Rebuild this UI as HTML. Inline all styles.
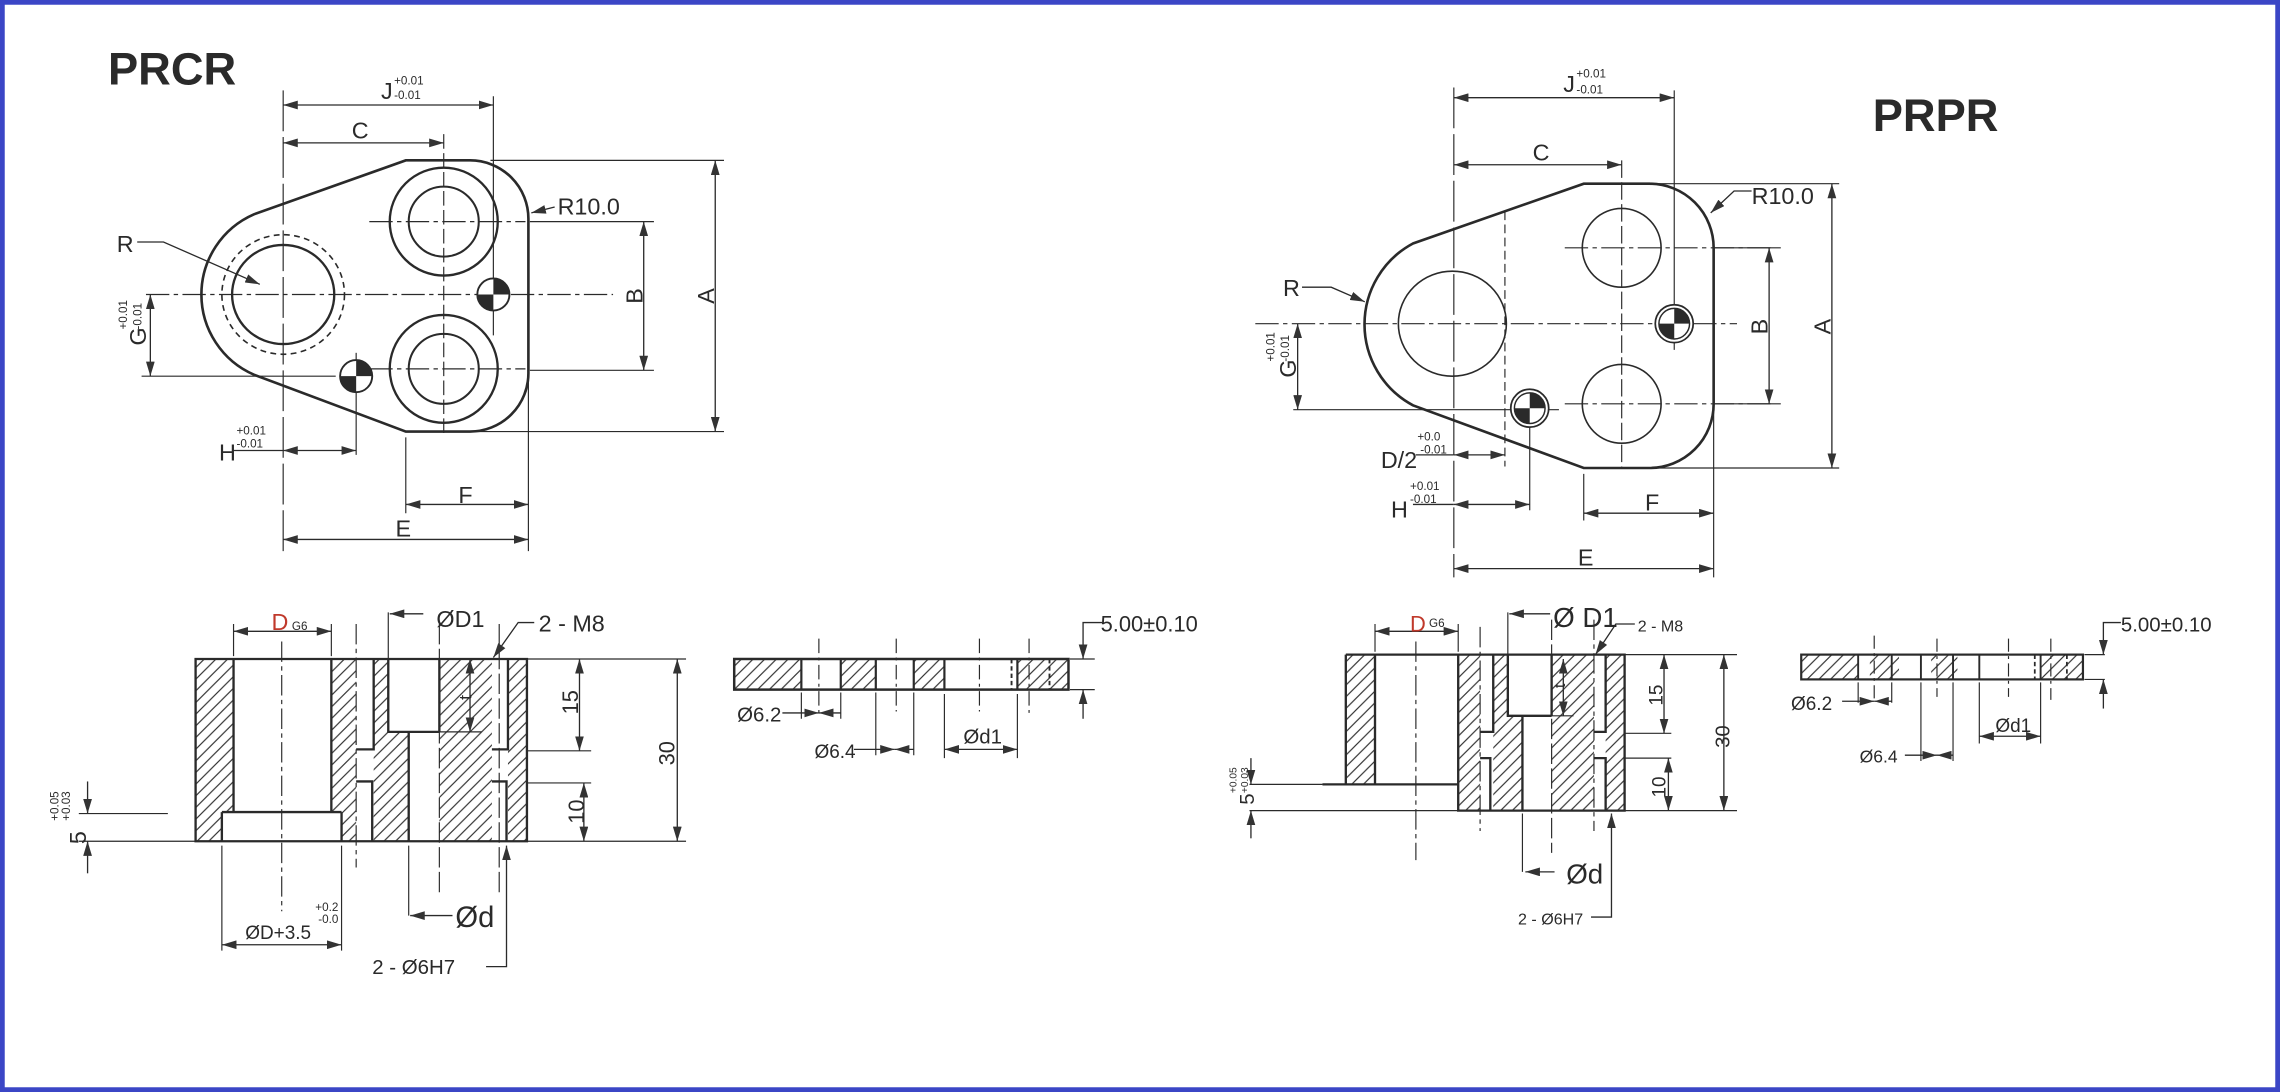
<!DOCTYPE html>
<html><head><meta charset="utf-8"><style>
html,body{margin:0;padding:0;background:#fff}
svg{display:block}
text{font-family:"Liberation Sans",sans-serif;fill:#2a2a2a}
</style></head><body>
<svg width="2280" height="1092" viewBox="0 0 1562 749" preserveAspectRatio="none" xmlns="http://www.w3.org/2000/svg">
<defs>
<pattern id="h" width="8" height="8" patternUnits="userSpaceOnUse">
<path d="M-2,10 L10,-2 M-2,2 L2,-2 M6,10 L10,6" stroke="#333" stroke-width="0.8"/>
</pattern>
<marker id="a" viewBox="0 0 10 6" refX="10" refY="3" markerWidth="10" markerHeight="6" markerUnits="userSpaceOnUse" orient="auto-start-reverse">
<path d="M0,0 L10,3 L0,6 z" fill="#333"/>
</marker>
</defs>
<rect x="1.5" y="1.5" width="1559" height="746" fill="#fff" stroke="#3b46c6" stroke-width="3.5"/>

<!-- ================= PRCR top view ================= -->
<text x="74" y="58" font-size="31" font-weight="bold">PRCR</text>
<g fill="none" stroke="#2a2a2a">
<path d="M278,110 L322,110 A40,40 0 0 1 362,150 L362,256 A40,40 0 0 1 322,296 L278,296 L174,257 A60,60 0 0 1 174,147 Z" stroke-width="1.8"/>
<circle cx="304" cy="152" r="37" stroke-width="1.6"/>
<circle cx="304" cy="152" r="24" stroke-width="1.4"/>
<circle cx="304" cy="253" r="37" stroke-width="1.6"/>
<circle cx="304" cy="253" r="24" stroke-width="1.4"/>
<ellipse cx="194" cy="202" rx="35" ry="34" stroke-width="1.6"/>
<ellipse cx="194" cy="202" rx="42" ry="41" stroke-width="1.1" stroke-dasharray="4,3"/>
<g stroke-width="0.8">
<path d="M100,202 L420,202" stroke-dasharray="16,3,3,3"/>
<path d="M253,152 L360,152 M253,253 L360,253" stroke-dasharray="16,3,3,3"/>
<path d="M304,92 L304,300" stroke-dasharray="10,3"/>
<path d="M194,62 L194,378" stroke-dasharray="28,4"/>
<path d="M338,66 L338,230"/>
<path d="M244,242 L244,312"/>
<path d="M362,258 L362,378 M278,300 L278,352"/>
<path d="M363,152 L448,152 M363,254 L448,254 M336,110 L496,110 M326,296 L496,296 M97,258 L230,258"/>
</g>
<g stroke-width="0.9">
<path d="M194,72 L338,72" marker-start="url(#a)" marker-end="url(#a)"/>
<path d="M194,98 L304,98" marker-start="url(#a)" marker-end="url(#a)"/>
<path d="M441,152 L441,254" marker-start="url(#a)" marker-end="url(#a)"/>
<path d="M490,110 L490,296" marker-start="url(#a)" marker-end="url(#a)"/>
<path d="M103,202 L103,258" marker-start="url(#a)" marker-end="url(#a)"/>
<path d="M160,309 L194,309"/>
<path d="M194,309 L244,309" marker-start="url(#a)" marker-end="url(#a)"/>
<path d="M278,346 L362,346" marker-start="url(#a)" marker-end="url(#a)"/>
<path d="M194,370 L362,370" marker-start="url(#a)" marker-end="url(#a)"/>
<path d="M94,166 L112,166 L178,195" marker-end="url(#a)"/>
<path d="M380,142 L364,146" marker-end="url(#a)"/>
</g>
</g>
<g>
<circle cx="338" cy="202" r="11" fill="#fff" stroke="#2a2a2a" stroke-width="1.3"/>
<path d="M338,202 L338,191 A11,11 0 0 1 349,202 Z M338,202 L338,213 A11,11 0 0 1 327,202 Z" fill="#2a2a2a"/>
<circle cx="244" cy="258" r="11" fill="#fff" stroke="#2a2a2a" stroke-width="1.3"/>
<path d="M244,258 L244,247 A11,11 0 0 1 255,258 Z M244,258 L244,269 A11,11 0 0 1 233,258 Z" fill="#2a2a2a"/>
</g>
<text x="261" y="68" font-size="16">J</text><text x="270" y="58" font-size="8">+0.01</text><text x="270" y="68" font-size="8">-0.01</text>
<text x="241" y="95" font-size="16">C</text>
<text x="80" y="173" font-size="16">R</text>
<text x="382" y="147" font-size="16">R10.0</text>
<text transform="translate(440,203) rotate(-90)" font-size="16" text-anchor="middle" dy="0">B</text>
<text transform="translate(489,203) rotate(-90)" font-size="16" text-anchor="middle">A</text>
<text transform="translate(100,237) rotate(-90)" font-size="16">G</text>
<text transform="translate(87,226) rotate(-90)" font-size="8">+0.01</text>
<text transform="translate(97,226) rotate(-90)" font-size="8">-0.01</text>
<text x="150" y="316" font-size="16">H</text><text x="162" y="298" font-size="8">+0.01</text><text x="162" y="307" font-size="8">-0.01</text>
<text x="314" y="345" font-size="16">F</text>
<text x="271" y="368" font-size="16">E</text>

<!-- ================= PRPR top view ================= -->
<text x="1283" y="90" font-size="31" font-weight="bold">PRPR</text>
<g fill="none" stroke="#2a2a2a">
<path d="M1085,126 L1130,126 A44,44 0 0 1 1174,170 L1174,277 A44,44 0 0 1 1130,321 L1085,321 L968,278 A63,63 0 0 1 968,167 Z" stroke-width="1.8"/>
<ellipse cx="995" cy="222" rx="37" ry="36" stroke-width="1.1"/>
<ellipse cx="1111" cy="170" rx="27" ry="27" stroke-width="1.1"/>
<ellipse cx="1111" cy="277" rx="27" ry="27" stroke-width="1.1"/>
<g stroke-width="0.8">
<path d="M860,222 L1190,222" stroke-dasharray="16,3,3,3"/>
<path d="M1072,170 L1213,170 M1072,277 L1213,277" stroke-dasharray="16,3,3,3"/>
<path d="M1031,145 L1031,320" stroke-dasharray="6,3"/>
<path d="M996,60 L996,396" stroke-dasharray="28,4"/>
<path d="M1111,110 L1111,321" stroke-dasharray="12,3"/>
<path d="M1147,62 L1147,240"/>
<path d="M1048,268 L1048,350"/>
<path d="M1174,280 L1174,396 M1085,325 L1085,357"/>
<path d="M1174,170 L1220,170 M1174,277 L1220,277 M1136,126 L1260,126 M1136,321 L1260,321 M886,281 L1068,281"/>
</g>
<g stroke-width="0.9">
<path d="M996,67 L1147,67" marker-start="url(#a)" marker-end="url(#a)"/>
<path d="M996,113 L1111,113" marker-start="url(#a)" marker-end="url(#a)"/>
<path d="M1212,170 L1212,277" marker-start="url(#a)" marker-end="url(#a)"/>
<path d="M1255,126 L1255,321" marker-start="url(#a)" marker-end="url(#a)"/>
<path d="M889,222 L889,281" marker-start="url(#a)" marker-end="url(#a)"/>
<path d="M970,312 L996,312"/>
<path d="M996,312 L1031,312" marker-start="url(#a)" marker-end="url(#a)"/>
<path d="M968,346 L996,346"/>
<path d="M996,346 L1048,346" marker-start="url(#a)" marker-end="url(#a)"/>
<path d="M1085,352 L1174,352" marker-start="url(#a)" marker-end="url(#a)"/>
<path d="M996,390 L1174,390" marker-start="url(#a)" marker-end="url(#a)"/>
<path d="M892,197 L912,197 L935,207" marker-end="url(#a)"/>
<path d="M1200,131 L1188,131 L1172,146" marker-end="url(#a)"/>
</g>
</g>
<g>
<circle cx="1147" cy="222" r="13" fill="#fff" stroke="#2a2a2a" stroke-width="1.2"/>
<circle cx="1147" cy="222" r="10.5" fill="#fff" stroke="#2a2a2a" stroke-width="1"/>
<path d="M1147,222 L1147,211.5 A10.5,10.5 0 0 1 1157.5,222 Z M1147,222 L1147,232.5 A10.5,10.5 0 0 1 1136.5,222 Z" fill="#2a2a2a"/>
<circle cx="1048" cy="280" r="13" fill="#fff" stroke="#2a2a2a" stroke-width="1.2"/>
<circle cx="1048" cy="280" r="10.5" fill="#fff" stroke="#2a2a2a" stroke-width="1"/>
<path d="M1048,280 L1048,269.5 A10.5,10.5 0 0 1 1058.5,280 Z M1048,280 L1048,290.5 A10.5,10.5 0 0 1 1037.5,280 Z" fill="#2a2a2a"/>
</g>
<text x="1071" y="63" font-size="16">J</text><text x="1080" y="53" font-size="8">+0.01</text><text x="1080" y="64" font-size="8">-0.01</text>
<text x="1050" y="110" font-size="16">C</text>
<text x="879" y="203" font-size="16">R</text>
<text x="1200" y="140" font-size="16">R10.0</text>
<text transform="translate(1211,224) rotate(-90)" font-size="16" text-anchor="middle">B</text>
<text transform="translate(1254,224) rotate(-90)" font-size="16" text-anchor="middle">A</text>
<text transform="translate(888,259) rotate(-90)" font-size="16">G</text>
<text transform="translate(873,248) rotate(-90)" font-size="8">+0.01</text>
<text transform="translate(883,248) rotate(-90)" font-size="8">-0.01</text>
<text x="946" y="321" font-size="16">D/2</text><text x="971" y="302" font-size="8">+0.0</text><text x="973" y="311" font-size="8">-0.01</text>
<text x="953" y="355" font-size="16">H</text><text x="966" y="336" font-size="8">+0.01</text><text x="966" y="345" font-size="8">-0.01</text>
<text x="1127" y="350" font-size="16">F</text>
<text x="1081" y="388" font-size="16">E</text>

<!-- ================= PRCR section ================= -->
<g stroke="#2a2a2a" fill="none">
<rect x="134" y="452" width="227" height="125" fill="url(#h)" stroke="none"/>
<g fill="#fff" stroke="none">
<rect x="160" y="452" width="67" height="106"/>
<rect x="152" y="557" width="82" height="20"/>
<rect x="244" y="452" width="12" height="125"/>
<rect x="266" y="452" width="35" height="50"/>
<rect x="280" y="502" width="21" height="75"/>
<rect x="337" y="452" width="11" height="125"/>
</g>
<g stroke-width="1.6">
<path d="M134,452 L361,452 L361,577 L134,577 Z"/>
<path d="M160,452 L160,557 M227,452 L227,557 M152,557 L234,557 M152,557 L152,577 M234,557 L234,577"/>
<path d="M256,452 L256,514 L244,514 M244,536 L255,536 L255,577"/>
<path d="M266,452 L266,502 L301,502 M280,502 L280,577 M301,452 L301,502"/>
<path d="M348,452 L348,514 L337,514 M337,536 L347,536 L347,577"/>
</g>
<g stroke-width="0.8">
<path d="M193,440 L193,625" stroke-dasharray="14,3,3,3"/>
<path d="M244,428 L244,595" stroke-dasharray="14,3,3,3"/>
<path d="M301,428 L301,612 M342,428 L342,612" stroke-dasharray="14,3"/>
<path d="M160,428 L160,450 M227,428 L227,450 M266,420 L266,452 M152,580 L152,652 M234,580 L234,652 M280,580 L280,628"/>
<path d="M361,452 L470,452 M361,515 L405,515 M361,537 L405,537 M361,577 L470,577 M54,558 L115,558 M54,577 L134,577 M301,502 L330,502"/>
</g>
<g stroke-width="0.9">
<path d="M160,433 L227,433" marker-start="url(#a)" marker-end="url(#a)"/>
<path d="M152,648 L234,648" marker-start="url(#a)" marker-end="url(#a)"/>
<path d="M397,452 L397,515" marker-start="url(#a)" marker-end="url(#a)"/>
<path d="M400,537 L400,577" marker-start="url(#a)" marker-end="url(#a)"/>
<path d="M464,452 L464,577" marker-start="url(#a)" marker-end="url(#a)"/>
<path d="M322,452 L322,502" marker-start="url(#a)" marker-end="url(#a)"/>
<path d="M60,536 L60,558" marker-end="url(#a)"/>
<path d="M60,599 L60,577" marker-end="url(#a)"/>
<path d="M290,421 L267,421" marker-end="url(#a)"/>
<path d="M310,628 L281,628" marker-end="url(#a)"/>
<path d="M366,427 L355,427 L338,451" marker-end="url(#a)"/>
<path d="M333,663 L347,663 L347,580" marker-end="url(#a)"/>
</g>
</g>
<text x="186" y="432" font-size="16" style="fill:#c0392b">D</text><text x="200" y="432" font-size="8">G6</text>
<text x="299" y="430" font-size="16">ØD1</text>
<text x="369" y="433" font-size="16">2 - M8</text>
<text transform="translate(323,480) rotate(-90)" font-size="12">t</text>
<text transform="translate(396,490) rotate(-90)" font-size="15">15</text>
<text transform="translate(400,565) rotate(-90)" font-size="15">10</text>
<text transform="translate(462,525) rotate(-90)" font-size="15">30</text>
<text transform="translate(59,579) rotate(-90)" font-size="16">5</text>
<text transform="translate(40,563) rotate(-90)" font-size="8">+0.05</text>
<text transform="translate(48,563) rotate(-90)" font-size="8">+0.03</text>
<text x="312" y="636" font-size="20">Ød</text>
<text x="168" y="644" font-size="13">ØD+3.5</text><text x="216" y="625" font-size="8">+0.2</text><text x="218" y="633" font-size="8">-0.0</text>
<text x="255" y="668" font-size="14">2 - Ø6H7</text>

<!-- ================= plate (middle-left) ================= -->
<g>
<g stroke="#2a2a2a" fill="none">
<rect x="503" y="452" width="46" height="21" fill="url(#h)" stroke="none"/>
<rect x="576" y="452" width="24" height="21" fill="url(#h)" stroke="none"/>
<rect x="626" y="452" width="21" height="21" fill="url(#h)" stroke="none"/>
<rect x="697" y="452" width="35" height="21" fill="url(#h)" stroke="none"/>
<rect x="503" y="452" width="229" height="21" stroke-width="1.7"/>
<path d="M549,452 L549,473 M576,452 L576,473 M600,452 L600,473 M626,452 L626,473 M647,452 L647,473 M697,452 L697,473" stroke-width="1.5"/>
<path d="M693,452 L693,473 M719,452 L719,473" stroke-width="1.3" stroke-dasharray="3,2"/>
<g stroke-width="0.8">
<path d="M561,438 L561,492 M614,438 L614,488 M671,438 L671,488 M705,438 L705,490" stroke-dasharray="10,3,2,3"/>
<path d="M549,475 L549,493 M576,475 L576,493 M600,475 L600,518 M626,475 L626,518 M647,476 L647,520 M697,476 L697,520 M733,452 L750,452 M733,473 L750,473"/>
</g>
<g stroke-width="0.9">
<path d="M536,489 L549,489"/>
<path d="M549,489 L561,489" marker-end="url(#a)"/><path d="M576,489 L561,489" marker-end="url(#a)"/>
<path d="M585,514 L600,514"/>
<path d="M600,514 L613,514" marker-end="url(#a)"/><path d="M626,514 L613,514" marker-end="url(#a)"/>
<path d="M647,514 L697,514" marker-start="url(#a)" marker-end="url(#a)"/>
<path d="M755,427 L742,427 L742,452" marker-end="url(#a)"/>
<path d="M742,493 L742,473" marker-end="url(#a)"/>
</g>
</g>
<text x="505" y="495" font-size="14">Ø6.2</text>
<text x="558" y="520" font-size="13">Ø6.4</text>
<text x="660" y="510" font-size="14">Ød1</text>
<text x="754" y="433" font-size="15">5.00±0.10</text>
</g>

<!-- plate (right) -->
<g stroke="#2a2a2a" fill="none">
<rect x="1234" y="449" width="39" height="17" fill="url(#h)" stroke="none"/>
<rect x="1281" y="449" width="20" height="17" fill="url(#h)" stroke="none"/>
<rect x="1323" y="449" width="18" height="17" fill="url(#h)" stroke="none"/>
<rect x="1398" y="449" width="29" height="17" fill="url(#h)" stroke="none"/>
<rect x="1234" y="449" width="193" height="17" stroke-width="1.5"/>
<path d="M1273,449 L1273,466 M1296,449 L1296,466 M1316,449 L1316,466 M1338,449 L1338,466 M1356,449 L1356,466 M1398,449 L1398,466" stroke-width="1.3"/>
<path d="M1394,449 L1394,466 M1416,449 L1416,466" stroke-width="1.2" stroke-dasharray="3,2"/>
<g stroke-width="0.8">
<path d="M1284,436 L1284,482 M1327,438 L1327,478 M1376,438 L1376,478 M1405,438 L1405,480" stroke-dasharray="9,3,2,3"/>
<path d="M1273,468 L1273,482 M1296,468 L1296,482 M1316,468 L1316,522 M1338,468 L1338,522 M1356,468 L1356,510 M1398,468 L1398,510 M1428,449 L1442,449 M1428,466 L1442,466"/>
</g>
<g stroke-width="0.9">
<path d="M1262,481 L1273,481"/>
<path d="M1273,481 L1284,481" marker-end="url(#a)"/><path d="M1296,481 L1284,481" marker-end="url(#a)"/>
<path d="M1305,518 L1316,518"/>
<path d="M1316,518 L1327,518" marker-end="url(#a)"/><path d="M1338,518 L1327,518" marker-end="url(#a)"/>
<path d="M1356,505 L1398,505" marker-start="url(#a)" marker-end="url(#a)"/>
<path d="M1453,427 L1441,427 L1441,449" marker-end="url(#a)"/>
<path d="M1441,486 L1441,466" marker-end="url(#a)"/>
</g>
</g>
<text x="1227" y="487" font-size="13">Ø6.2</text>
<text x="1274" y="523" font-size="12">Ø6.4</text>
<text x="1367" y="502" font-size="13">Ød1</text>
<text x="1453" y="433" font-size="14">5.00±0.10</text>

<!-- ================= PRPR section ================= -->
<g stroke="#2a2a2a" fill="none">
<rect x="922" y="449" width="20" height="89" fill="url(#h)" stroke="none"/>
<rect x="999" y="449" width="114" height="107" fill="url(#h)" stroke="none"/>
<g fill="#fff" stroke="none">
<rect x="1014" y="449" width="9" height="107"/>
<rect x="1033" y="449" width="30" height="42"/>
<rect x="1043" y="491" width="20" height="65"/>
<rect x="1092" y="449" width="8" height="107"/>
</g>
<g stroke-width="1.6">
<path d="M922,449 L1113,449 L1113,556 L999,556 L999,538 L906,538 M922,449 L922,538 M942,449 L942,538 M999,449 L999,538"/>
<path d="M1023,449 L1023,502 L1014,502 M1014,520 L1021,520 L1021,556"/>
<path d="M1033,449 L1033,491 L1063,491 M1043,491 L1043,556 M1063,449 L1063,491"/>
<path d="M1100,449 L1100,502 L1092,502 M1092,520 L1100,520 L1100,556"/>
</g>
<g stroke-width="0.8">
<path d="M970,440 L970,590" stroke-dasharray="14,3,3,3"/>
<path d="M1014,430 L1014,570 M1092,425 L1092,570" stroke-dasharray="14,3,3,3"/>
<path d="M1063,425 L1063,585" stroke-dasharray="14,3"/>
<path d="M942,428 L942,447 M999,428 L999,447 M1033,420 L1033,449 M1043,558 L1043,598"/>
<path d="M1113,449 L1190,449 M1113,503 L1145,503 M1113,520 L1145,520 M1113,556 L1190,556 M856,538 L906,538 M856,556 L999,556 M1063,491 L1078,491"/>
</g>
<g stroke-width="0.9">
<path d="M942,433 L999,433" marker-start="url(#a)" marker-end="url(#a)"/>
<path d="M1140,449 L1140,503" marker-start="url(#a)" marker-end="url(#a)"/>
<path d="M1143,520 L1143,556" marker-start="url(#a)" marker-end="url(#a)"/>
<path d="M1181,449 L1181,556" marker-start="url(#a)" marker-end="url(#a)"/>
<path d="M1071,452 L1071,491" marker-start="url(#a)" marker-end="url(#a)"/>
<path d="M857,520 L857,538" marker-end="url(#a)"/>
<path d="M857,575 L857,556" marker-end="url(#a)"/>
<path d="M1062,421 L1034,421" marker-end="url(#a)"/>
<path d="M1065,598 L1045,598" marker-end="url(#a)"/>
<path d="M1120,428 L1107,428 L1093,449" marker-end="url(#a)"/>
<path d="M1090,629 L1104,629 L1104,558" marker-end="url(#a)"/>
</g>
</g>
<text x="966" y="433" font-size="15" style="fill:#c0392b">D</text><text x="979" y="430" font-size="8">G6</text>
<text x="1064" y="430" font-size="19">Ø D1</text>
<text x="1122" y="433" font-size="11">2 - M8</text>
<text transform="translate(1072,472) rotate(-90)" font-size="11">t</text>
<text transform="translate(1139,484) rotate(-90)" font-size="13">15</text>
<text transform="translate(1141,547) rotate(-90)" font-size="13">10</text>
<text transform="translate(1185,513) rotate(-90)" font-size="14">30</text>
<text transform="translate(859,552) rotate(-90)" font-size="14">5</text>
<text transform="translate(847,544) rotate(-90)" font-size="7">+0.05</text>
<text transform="translate(855,544) rotate(-90)" font-size="7">+0.03</text>
<text x="1073" y="606" font-size="19">Ød</text>
<text x="1040" y="634" font-size="11">2 - Ø6H7</text>
</svg>
</body></html>
